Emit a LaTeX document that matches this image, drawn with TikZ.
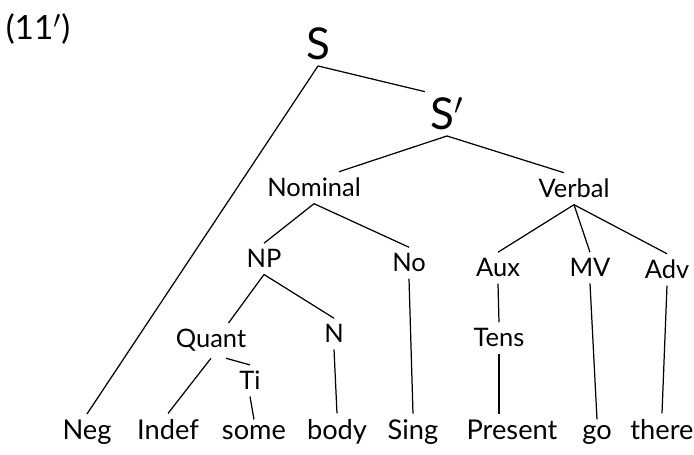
\documentclass[tikz,border=0pt]{standalone}
\usepackage{fontspec}
\setmainfont{Lato}
\usetikzlibrary{positioning}
\tikzset{
  cat/.style={font=\fontsize{14.5}{16}\selectfont, inner sep=3.5pt, anchor=base},
  word/.style={font=\fontsize{15.5}{18}\selectfont, inner sep=3.5pt, anchor=base},
  root/.style={font=\fontsize{25}{28}\selectfont, inner sep=3pt, anchor=base},
  branche/.style={line width=0.7pt},
}
\begin{document}
\begin{tikzpicture}[x=0.02cm, y=-0.02cm]
    \useasboundingbox (0,0) rectangle (694,455);
    % numero
    \node[root, font=\fontsize{19}{22}\selectfont] (numero) at (38,40) {(11$'$)};
    % noeuds
    \node[root] (S)       at (318,60)  {S};
    \node[root] (Sp)      at (447,130) {S$'$};
    \node[cat]  (Nominal) at (314,197) {Nominal};
    \node[cat]  (Verbal)  at (574,198) {Verbal};
    \node[cat]  (NP)      at (264,268) {NP};
    \node[cat]  (No)      at (409,272) {No};
    \node[cat]  (Aux)     at (498,277) {Aux};
    \node[cat]  (MV)      at (590,277) {MV};
    \node[cat]  (Adv)     at (667,279) {Adv};
    \node[cat]  (Quant)   at (211,348) {Quant};
    \node[cat]  (N)       at (334,343) {N};
    \node[cat]  (Ti)      at (250,390) {Ti};
    \node[cat]  (Tens)    at (499,347) {Tens};
    % mots
    \node[word] (Neg)     at (87,440)  {Neg};
    \node[word] (Indef)   at (168,440) {Indef};
    \node[word] (some)    at (254,440) {some};
    \node[word] (body)    at (337,440) {body};
    \node[word] (Sing)    at (413,440) {Sing};
    \node[word] (Present) at (512,440) {Present};
    \node[word] (go)      at (597,440) {go};
    \node[word] (there)   at (662,440) {there};
    % branches
    \draw[branche] (S.south) -- (Neg.north);
    \draw[branche] (S.south) -- (Sp.north west);
    \draw[branche] (Sp.south) -- ([xshift=0.5cm]Nominal.north);
    \draw[branche] (Sp.south) -- ([xshift=-0.2cm]Verbal.north);
    \draw[branche] (Nominal.south) -- (NP.north);
    \draw[branche] (Nominal.south) -- (No.north);
    \draw[branche] (Verbal.south) -- (Aux.north);
    \draw[branche] (Verbal.south) -- (MV.north);
    \draw[branche] (Verbal.south) -- (Adv.north);
    \draw[branche] (NP.south) -- ([xshift=0.35cm]Quant.north);
    \draw[branche] (NP.south) -- (N.north);
    \draw[branche] (Quant.south) -- (Indef.north);
    \draw[branche] ([xshift=0.3cm]Quant.south) -- (Ti.north);
    \draw[branche] (Ti.south) -- (some.north);
    \draw[branche] (N.south) -- (body.north);
    \draw[branche] (No.south) -- (Sing.north);
    \draw[branche] (Aux.south) -- (Tens.north);
    \draw[branche] (Tens.south) -- (Tens.south |- Present.north);
    \draw[branche] (MV.south) -- (go.north);
    \draw[branche] (Adv.south) -- (there.north);
\end{tikzpicture}
\end{document}
